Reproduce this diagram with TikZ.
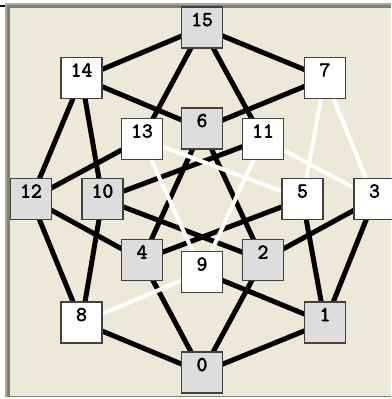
\documentclass[tikz,border=0pt]{standalone}
\usepackage{fontspec}
\newfontfamily\cubefont[BoldFont={Latin Modern Mono},BoldFeatures={FakeBold=2.5}]{Latin Modern Mono}
\definecolor{panelcolor}{RGB}{236,233,216}
\definecolor{boxgray}{RGB}{221,221,221}
\definecolor{boxline}{RGB}{64,64,64}
\definecolor{framegray}{RGB}{172,168,153}
\definecolor{framedark}{RGB}{128,126,114}
\pgfdeclarelayer{back}
\pgfdeclarelayer{links}
\pgfsetlayers{back,links,main}

\begin{document}
\begin{tikzpicture}[x=1pt,y=-1pt,
    vertex/.style={draw=boxline,line width=1.2pt,minimum size=41pt,inner sep=0pt,
        text height=13pt,text depth=16pt,font=\cubefont\bfseries\fontsize{21}{21}\selectfont},
    hardlink/.style={line width=5pt},
    softlink/.style={white,line width=4pt}]
    \useasboundingbox (0,0) rectangle (391,399);
    \begin{pgfonlayer}{back}
        \fill[white] (0,0) rectangle (391,399);
        \fill[framegray] (5,3) rectangle (391,397);
        \fill[framedark] (7,5) rectangle (391,397);
        \fill[panelcolor] (10,8) rectangle (391,396);
        \fill[black] (0,5) rectangle (5,7);
    \end{pgfonlayer}
    \foreach \n/\x/\y/\f in {15/202/27.5/boxgray, 14/81.5/78/white, 7/325/78/white,
            6/202/128.5/boxgray, 13/142/139/white, 11/263/139/white,
            12/31/199/boxgray, 10/102.5/199/boxgray, 5/302.5/199/white, 3/374.5/199/white,
            4/142/260/boxgray, 2/263/260/boxgray, 9/202/272/white,
            8/81.5/322.5/white, 1/325/322.5/boxgray, 0/202/372.5/boxgray} {
            \node[vertex,fill=\f] (v\n) at (\x,\y) {\n};
        }
    \begin{pgfonlayer}{links}
        \foreach \a/\b in {15/14, 15/7, 15/13, 15/11, 14/6, 14/12, 14/10, 7/6, 13/12,
                11/10, 12/4, 12/8, 10/8, 10/2, 6/4, 6/2, 5/4, 3/2, 5/1, 3/1,
                4/0, 2/0, 9/1, 8/0, 1/0} {
                \draw[hardlink] (v\a.center) -- (v\b.center);
            }
        \foreach \a/\b in {7/5, 7/3, 13/5, 13/9, 11/3, 11/9, 9/8} {
                \draw[softlink] (v\a.center) -- (v\b.center);
            }
    \end{pgfonlayer}
\end{tikzpicture}
\end{document}
